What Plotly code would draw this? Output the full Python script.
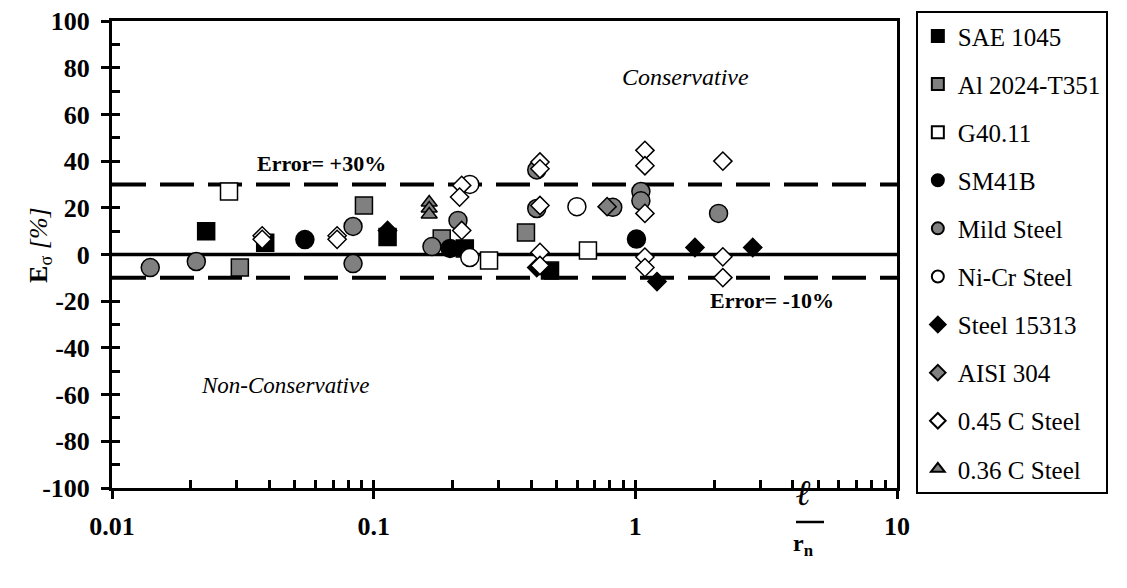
import plotly.graph_objects as go

# ---------------- data ----------------
sae_x = [0.0229, 0.0385, 0.113, 0.223, 0.472]
sae_y = [10, 5, 7.5, 2.6, -6.9]

al_x = [0.0308, 0.0918, 0.182, 0.382]
al_y = [-5.6, 21, 6.9, 9.4]

g40_x = [0.028, 0.276, 0.659]
g40_y = [27, -2.6, 1.7]

sm_x = [0.0546, 0.196, 1.01]
sm_y = [6.4, 2.6, 6.6]

mild_x = [0.014, 0.021, 0.0834, 0.0834, 0.167, 0.21, 0.42, 0.42, 0.82, 1.05, 1.05, 2.08]
mild_y = [-5.6, -3, 12, -3.9, 3.4, 14.6, 36.2, 19.7, 20.2, 27, 23, 17.6]

nicr_x = [0.233, 0.233, 0.598]
nicr_y = [30, -1.3, 20.5]

s15313_x = [0.113, 0.42, 1.21, 1.69, 2.81]
s15313_y = [10.3, -5.6, -11.6, 3, 3]

aisi_x = [0.78]
aisi_y = [20.5]

c45_x = [0.0375, 0.0375, 0.0725, 0.0725, 0.217, 0.213, 0.217,
         0.432, 0.432, 0.432, 0.432, 0.432,
         1.088, 1.088, 1.088, 1.088, 1.088,
         2.16, 2.16, 2.16]
c45_y = [8, 6.5, 8, 6.5, 29.6, 24.6, 10.3,
         39.6, 36.7, 21, 0.9, -4.7,
         44.6, 38, 17.6, -1.1, -5.6,
         40, -1, -9.9]

c36_x = [0.163, 0.163, 0.163]
c36_y = [22.3, 19.7, 17.1]

series_names = ["SAE 1045", "Al 2024-T351", "G40.11", "SM41B", "Mild Steel",
                "Ni-Cr Steel", "Steel 15313", "AISI 304", "0.45 C Steel", "0.36 C Steel"]

error_levels = [30, -10]
zero_level = [0]

x_major = [0.01, 0.1, 1, 10]
x_major_text = ["0.01", "0.1", "1", "10"]
y_major = list(range(-100, 101, 20))
y_major_text = [str(v) for v in y_major]  # plain hyphen minus, as in the reference

# ---------------- style ----------------
BLACK, GRAY, WHITE = "#000000", "#808080", "#ffffff"
FONT = "Liberation Serif"

series = [
    (sae_x, sae_y, "square", BLACK, 17),
    (al_x, al_y, "square", GRAY, 17),
    (g40_x, g40_y, "square", WHITE, 17),
    (sm_x, sm_y, "circle", BLACK, 18),
    (mild_x, mild_y, "circle", GRAY, 18),
    (nicr_x, nicr_y, "circle", WHITE, 18),
    (s15313_x, s15313_y, "diamond", BLACK, 14),
    (aisi_x, aisi_y, "diamond", GRAY, 14),
    (c45_x, c45_y, "diamond", WHITE, 14),
    (c36_x, c36_y, "triangle-up", GRAY, 14),
]

fig = go.Figure()
for name, (xs, ys, sym, col, sz) in zip(series_names, series):
    fig.add_trace(go.Scatter(
        x=xs, y=ys, mode="markers", name=name, legendgroup=name,
        marker=dict(symbol=sym, color=col, size=sz,
                    line=dict(color=BLACK, width=1.5)),
    ))

# empty trace to host the overlay axes carrying the inside ticks
fig.add_trace(go.Scatter(x=[], y=[], xaxis="x2", yaxis="y2", showlegend=False,
                         hoverinfo="skip"))

for lv in error_levels:
    fig.add_hline(y=lv, line=dict(color=BLACK, width=4, dash="34px,14px"), layer="below")
for lv in zero_level:
    fig.add_hline(y=lv, line=dict(color=BLACK, width=3.5), layer="below")

minor_x = [m * 10 ** e for e in (-2, -1, 0) for m in range(1, 10)] + [10]
minor_y = list(range(-100, 101, 10))

tickfont = dict(family=FONT, size=26, color=BLACK, weight="bold")

fig.update_layout(
    width=1127, height=588,
    margin=dict(l=112, r=230, t=21, b=100, autoexpand=False),
    paper_bgcolor="white", plot_bgcolor="white",
    showlegend=True,
    xaxis=dict(type="log", range=[-2, 1], tickvals=x_major, ticktext=x_major_text,
               ticks="outside", ticklen=8, tickwidth=3, tickcolor=BLACK,
               showline=True, linewidth=3, linecolor=BLACK, mirror=True,
               showgrid=False, zeroline=False, tickfont=tickfont,
               ticklabelstandoff=5),
    yaxis=dict(range=[-100, 100], tickvals=y_major, ticktext=y_major_text,
               ticks="outside", ticklen=8, tickwidth=3, tickcolor=BLACK,
               showline=True, linewidth=3, linecolor=BLACK, mirror=True,
               showgrid=False, zeroline=False, tickfont=tickfont,
               ticklabelstandoff=6),
    xaxis2=dict(type="log", range=[-2, 1], overlaying="x", anchor="y2",
                tickvals=minor_x, ticks="inside", ticklen=8, tickwidth=2.5,
                tickcolor=BLACK, showticklabels=False, showline=False,
                showgrid=False, zeroline=False, side="bottom"),
    yaxis2=dict(range=[-100, 100], overlaying="y", anchor="x2",
                tickvals=minor_y, ticks="inside", ticklen=8, tickwidth=2.5,
                tickcolor=BLACK, showticklabels=False, showline=False,
                showgrid=False, zeroline=False, side="left"),
    legend=dict(x=1.024, xanchor="left", y=1.021, yanchor="top",
                bordercolor=BLACK, borderwidth=2, bgcolor="white",
                font=dict(family=FONT, size=25, color=BLACK),
                tracegroupgap=12.6, itemsizing="constant", maxheight=2000),
)

annots = [
    dict(text="<b>Error= +30%</b>", x=-1.198, y=39, size=22),
    dict(text="<b>Error= -10%</b>", x=0.522, y=-19.8, size=22),
    dict(text="<i>Conservative</i>", x=0.19, y=75.9, size=24),
    dict(text="<i>Non-Conservative</i>", x=-1.339, y=-56, size=23),
]
for a in annots:
    fig.add_annotation(text=a["text"], x=a["x"], y=a["y"], xref="x", yref="y",
                       showarrow=False, font=dict(family=FONT, size=a["size"], color=BLACK))

# y axis title
fig.add_annotation(text="<b>E</b><sub>σ</sub> <i>[%]</i>", textangle=-90,
                   x=-0.115, y=0.52, xref="paper", yref="paper", showarrow=False,
                   font=dict(family=FONT, size=26, color=BLACK))
# x axis title: l over r_n
xc = (810 - 112) / 785
fig.add_annotation(text="<i>ℓ</i>", x=xc, y=0, xref="paper", yref="paper",
                   yshift=-27, xshift=3, showarrow=False,
                   font=dict(family="DejaVu Serif", size=36, color=BLACK, weight="bold"))
fig.add_shape(type="line", xref="paper", yref="paper", ysizemode="pixel", yanchor=0,
              x0=xc - 14 / 785, x1=xc + 14 / 785, y0=-34, y1=-34,
              line=dict(color=BLACK, width=2.5))
fig.add_annotation(text="<b>r<sub>n</sub></b>", x=xc, y=0, xref="paper", yref="paper",
                   yshift=-74, xshift=6, showarrow=False,
                   font=dict(family=FONT, size=24, color=BLACK))

fig.write_html("out.html")
